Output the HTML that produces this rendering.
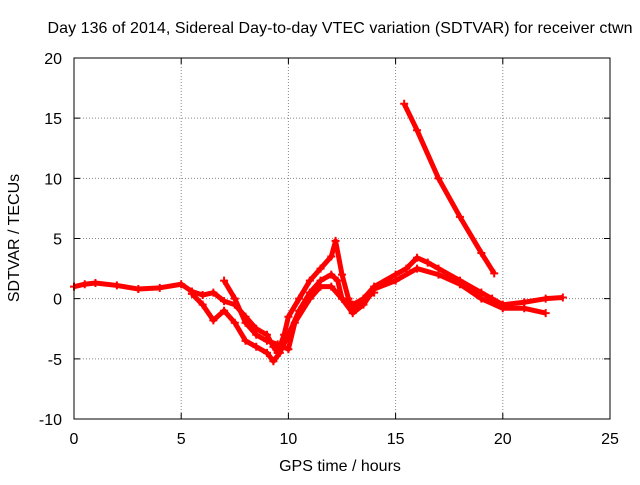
<!DOCTYPE html>
<html><head><meta charset="utf-8"><style>
body{margin:0;background:#fff}
svg text{font-family:"Liberation Sans",sans-serif;font-size:16px;fill:#000}
</style></head><body>
<svg id="c" width="640" height="480">
<text x="340" y="33" text-anchor="middle" textLength="585">Day 136 of 2014, Sidereal Day-to-day VTEC variation (SDTVAR) for receiver ctwn</text>
<text x="340" y="471" text-anchor="middle">GPS time / hours</text>
<text transform="translate(19,238) rotate(-90)" text-anchor="middle">SDTVAR / TECUs</text>
<g id="grid"></g><g id="ticks"></g><g id="marks"></g>
<rect x="74" y="58" width="536" height="361" fill="none" stroke="#000"/>
</svg>
<script>
const xTicks=[0,5,10,15,20,25];
const yTicks=[-10,-5,0,5,10,15,20];
const s1x=[0,0.5,1,2,3,4,5,5.5,6,6.5,7,7.5,8,8.5,9,9.3,9.5,9.8,10,10.5,11,11.5,12,12.2,12.5,12.8,13,13.5,14,15,15.5,16,16.5,17,18,19,19.5,20,21,22,22.8];
const s1y=[1,1.2,1.3,1.1,0.8,0.9,1.2,0.6,0.3,0.5,-0.2,-0.5,-1.5,-2.5,-3,-4,-4.5,-3,-1.5,0,1.5,2.5,3.5,4.8,2,0,-1,0,1,2,2.5,3.4,3,2.5,1.5,0.5,0,-0.5,-0.3,0,0.1];
const s2x=[5.5,6,6.5,7,7.5,8,8.5,9,9.3,9.6,10,10.5,11,11.5,12,12.3,12.5,13,13.5,14,15,16,17,18,19,20,21,22];
const s2y=[0.4,-0.5,-1.8,-1,-2,-3.5,-4,-4.5,-5.2,-4.5,-3,-1,0.5,1.5,2,1.5,0,-1.2,-0.5,0.8,1.5,2.5,2,1.2,0,-0.8,-0.8,-1.2];
const s3x=[7,7.5,8,8.5,9,9.5,10,10.3,11,11.5,12,12.5,13,14];
const s3y=[1.5,0,-2,-3,-3.5,-3.8,-4.2,-2,0,1,1,0,-0.5,0.5];
const s4x=[15.4,16,17,18,19,19.6];
const s4y=[16.2,14,10,6.8,3.8,2.1];
const X=v=>74+v*536/25, Y=v=>419-(v+10)*361/30;
const NS='http://www.w3.org/2000/svg';
function mk(t,a,p){const e=document.createElementNS(NS,t);for(const k in a)e.setAttribute(k,a[k]);p.appendChild(e);return e;}
const g=document.getElementById('grid'),tk=document.getElementById('ticks'),m=document.getElementById('marks');
xTicks.forEach(v=>{
 const l=mk('line',{x1:X(v),x2:X(v),y1:58,y2:419,stroke:'#888','stroke-dasharray':'1,2'},g);
 
 
 mk('path',{d:`M${X(v)},419v-6M${X(v)},58v6`,stroke:'#000'},tk);
 const t=mk('text',{x:X(v),y:444,'text-anchor':'middle'},tk);t.textContent=v;
 
 
});
yTicks.forEach(v=>{
 const l=mk('line',{x1:74,x2:610,y1:Y(v),y2:Y(v),stroke:'#888','stroke-dasharray':'1,2'},g);
 
 
 mk('path',{d:`M74,${Y(v)}h6M610,${Y(v)}h-6`,stroke:'#000'},tk);
 const t=mk('text',{x:62,y:Y(v)+6,'text-anchor':'end'},tk);t.textContent=v;
 
 
});
[[s1x,s1y],[s2x,s2y],[s3x,s3y],[s4x,s4y]].forEach((s,i)=>{
 const pts=s[0].map((x,j)=>X(x)+','+Y(s[1][j])).join(' ');
 const pl=mk('polyline',{points:pts,fill:'none',stroke:'#f00','stroke-width':5,'stroke-linejoin':'round'},m);
 
 
 s[0].forEach((x,j)=>{
  const px=X(x),py=Y(s[1][j]);
  const p=mk('path',{d:`M${px-4},${py}h8M${px},${py-4}v8`,stroke:'#f00','stroke-width':2},m);
  
  
 });
});
</script>
</body></html>
